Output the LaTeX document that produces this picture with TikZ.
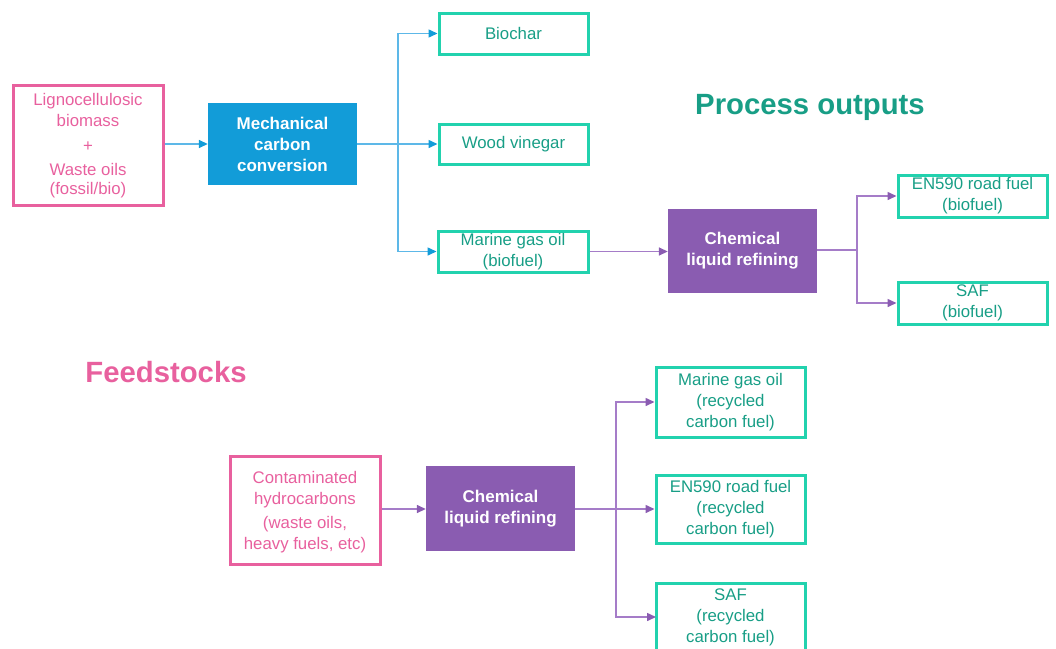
\documentclass[tikz,border=0pt]{standalone}
\usepackage{fontspec}
\setmainfont{Liberation Sans}
\usetikzlibrary{arrows.meta}
\definecolor{pinkc}{HTML}{E8609E}
\definecolor{tealb}{HTML}{22D2AE}
\definecolor{tealt}{HTML}{189E86}
\definecolor{bluef}{HTML}{129CD8}
\definecolor{bluel}{HTML}{5DB8E8}
\definecolor{purf}{HTML}{8A5CB1}
\definecolor{purl}{HTML}{A57CC8}
\tikzset{
  x=1pt,y=-1pt,
  txt/.style={font=\fontsize{16.8}{21}\selectfont},
  inbox/.style={draw=pinkc,line width=3pt,text=pinkc,align=center,inner sep=0pt,txt},
  outbox/.style={draw=tealb,line width=3pt,text=tealt,align=center,inner sep=0pt,txt},
  procb/.style={fill=bluef,text=white,align=center,inner sep=0pt,font=\fontsize{17}{21}\selectfont\bfseries},
  procp/.style={fill=purf,text=white,align=center,inner sep=0pt,font=\fontsize{17}{21}\selectfont\bfseries},
  bl/.style={draw=bluel,line width=1.5pt},
  pl/.style={draw=purl,line width=1.5pt},
  barr/.style={bl,-{Triangle[length=9pt,width=8pt,color=bluef]}},
  parr/.style={pl,-{Triangle[length=9pt,width=8pt,color=purf]}},
  head/.style={font=\fontsize{29.3}{33}\selectfont\bfseries}
}
\begin{document}
\begin{tikzpicture}
\useasboundingbox (0,0) rectangle (1056,648);
\clip (0,0) rectangle (1056,648);
% top row
\node[inbox,minimum width=150,minimum height=120] (ligno) at (88,145) {};
\node[text=pinkc,align=center,txt] (lignot) at (88,145.5) {Lignocellulosic\\biomass\\[4pt]+\\[3pt]Waste oils\\[-2pt](fossil/bio)};
\node[procb,minimum width=149,minimum height=82] (mech) at (282.5,144) {Mechanical\\carbon\\conversion};
\node[outbox,minimum width=149,minimum height=41] (biochar) at (513.5,33.5) {Biochar};
\node[outbox,minimum width=149,minimum height=40] (vinegar) at (513.5,144) {Wood vinegar};
\node[outbox,minimum width=150,minimum height=41] (marine) at (513,251.5) {Marine gas oil\\(biofuel)};
\node[procp,minimum width=149,minimum height=84] (chem1) at (742.5,251) {Chemical\\liquid refining};
\node[outbox,minimum width=149,minimum height=42] (en1) at (972.5,196) {EN590 road fuel\\(biofuel)};
\node[outbox,minimum width=149,minimum height=42] (saf1) at (972.5,303) {SAF\\(biofuel)};
\node[head,text=tealt] (pout) at (810,107) {Process outputs};
\node[head,text=pinkc] (feed) at (166,372) {Feedstocks};
% bottom row
\node[inbox,minimum width=150,minimum height=108] (contam) at (305,510) {};
\node[text=pinkc,align=center,txt] (contamt) at (305,512) {Contaminated\\hydrocarbons\\[3pt](waste oils,\\heavy fuels, etc)};
\node[procp,minimum width=149,minimum height=85] (chem2) at (500.5,508.5) {Chemical\\liquid refining};
\node[outbox,minimum width=149,minimum height=70] (mgo2) at (730.5,402) {Marine gas oil\\(recycled\\carbon fuel)};
\node[outbox,minimum width=149,minimum height=68] (en2) at (730.5,509) {EN590 road fuel\\(recycled\\carbon fuel)};
\node[outbox,minimum width=149,minimum height=72,anchor=north] (saf2) at (730.5,582) {};
\node[text=tealt,align=center,txt,anchor=north] (saf2t) at (730.5,585) {SAF\\(recycled\\carbon fuel)};
% connectors top
\coordinate (j1) at (398,144);
\draw[barr] (ligno.east |- mech.west) -- (mech.west);
\draw[bl] (mech.east) -- (j1);
\draw[barr] (j1) |- (biochar.west);
\draw[barr] (j1) -- (vinegar.west);
\draw[barr] (j1) |- (marine.west);
\draw[parr] (marine.east) -- (chem1.west |- marine.east);
\coordinate (j2) at (857,250);
\draw[pl] (chem1.east |- j2) -- (j2);
\draw[parr] (j2) |- (en1.west);
\draw[parr] (j2) |- (saf1.west);
% connectors bottom
\coordinate (j3) at (616,509);
\draw[parr] (contam.east |- j3) -- (chem2.west |- j3);
\draw[pl] (chem2.east |- j3) -- (j3);
\draw[parr] (j3) |- (mgo2.west);
\draw[parr] (j3) -- (en2.west);
\coordinate (s2w) at (656,617);
\draw[parr] (j3) |- (s2w);
\end{tikzpicture}
\end{document}
